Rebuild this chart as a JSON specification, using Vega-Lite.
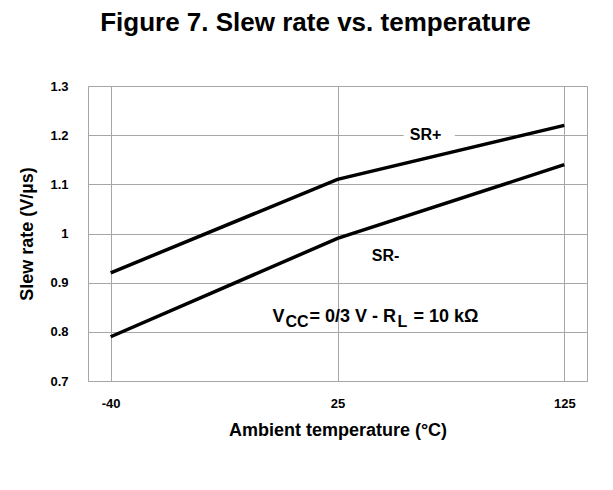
{
  "$schema": "https://vega.github.io/schema/vega-lite/v6.json",
  "autosize": {"type": "none"},
  "padding": {"left": 88, "top": 86, "right": 26, "bottom": 109},
  "width": 499,
  "height": 295,
  "background": "white",
  "title": {
    "text": "Figure 7. Slew rate vs. temperature",
    "font": "Liberation Sans",
    "fontSize": 26,
    "fontWeight": "bold",
    "color": "black",
    "anchor": "middle",
    "dx": -22,
    "offset": 44
  },
  "config": {
    "view": {"stroke": "#a6a6a6", "strokeWidth": 1},
    "font": "Liberation Sans",
    "axis": {
      "gridColor": "#a6a6a6",
      "gridOpacity": 1,
      "gridWidth": 1,
      "domain": false,
      "ticks": false,
      "labelFont": "Liberation Sans",
      "labelFontSize": 13,
      "labelFontWeight": "bold",
      "labelColor": "black",
      "titleFont": "Liberation Sans",
      "titleFontSize": 18,
      "titleFontWeight": "bold",
      "titleColor": "black"
    }
  },
  "datasets": {
    "curves": [
      {"series": "SR+", "temp": "-40", "rate": 0.92},
      {"series": "SR+", "temp": "25", "rate": 1.11},
      {"series": "SR+", "temp": "125", "rate": 1.22},
      {"series": "SR-", "temp": "-40", "rate": 0.79},
      {"series": "SR-", "temp": "25", "rate": 0.99},
      {"series": "SR-", "temp": "125", "rate": 1.14}
    ],
    "notes": [
      {"id": "srp", "label": "SR+", "temp": "25", "rate": 1.2},
      {"id": "srm", "label": "SR-", "temp": "25", "rate": 0.955},
      {"id": "v", "label": "V", "temp": "25", "rate": 0.82},
      {"id": "cc", "label": "CC", "temp": "25", "rate": 0.82},
      {"id": "mid", "label": "= 0/3 V - R", "temp": "25", "rate": 0.82},
      {"id": "l", "label": "L", "temp": "25", "rate": 0.82},
      {"id": "end", "label": "= 10 kΩ", "temp": "25", "rate": 0.82}
    ]
  },
  "encoding": {
    "x": {
      "field": "temp",
      "type": "ordinal",
      "sort": ["-40", "25", "125"],
      "scale": {"type": "point", "padding": 0.1},
      "axis": {"title": "Ambient temperature (°C)", "labelAngle": 0, "labelPadding": 16, "titlePadding": 11, "grid": true}
    },
    "y": {
      "field": "rate",
      "type": "quantitative",
      "scale": {"domain": [0.7, 1.3], "nice": false, "zero": false},
      "axis": {"title": "Slew rate (V/µs)", "format": "~g", "values": [0.7, 0.8, 0.9, 1, 1.1, 1.2, 1.3], "labelPadding": 20, "titlePadding": 13, "grid": true}
    }
  },
  "layer": [
    {
      "data": {"name": "curves"},
      "mark": {"type": "line", "color": "black", "strokeWidth": 3.5},
      "encoding": {"detail": {"field": "series"}}
    },
    {
      "data": {"name": "notes"},
      "transform": [{"filter": "datum.id === 'srp'"}],
      "mark": {"type": "text", "fontSize": 16, "fontWeight": "bold", "dx": 92, "stroke": "white", "strokeWidth": 20, "fill": "white"},
      "encoding": {"text": {"field": "label"}}
    },
    {
      "data": {"name": "notes"},
      "transform": [{"filter": "datum.id === 'srp' || datum.id === 'srm'"}],
      "mark": {"type": "text", "fontSize": 16, "fontWeight": "bold", "color": "black", "dx": {"expr": "datum.id === 'srp' ? 88 : 48"}},
      "encoding": {"text": {"field": "label"}}
    },
    {
      "data": {"name": "notes"},
      "transform": [{"filter": "datum.id === 'v' || datum.id === 'mid' || datum.id === 'end'"}],
      "mark": {"type": "text", "fontSize": 18, "fontWeight": "bold", "color": "black", "align": "left", "baseline": "alphabetic",
        "dx": {"expr": "datum.id === 'v' ? -65 : datum.id === 'mid' ? -28 : 76"}},
      "encoding": {"text": {"field": "label"}}
    },
    {
      "data": {"name": "notes"},
      "transform": [{"filter": "datum.id === 'cc' || datum.id === 'l'"}],
      "mark": {"type": "text", "fontSize": 16, "fontWeight": "bold", "color": "black", "align": "left", "baseline": "alphabetic", "dy": 5,
        "dx": {"expr": "datum.id === 'cc' ? -52 : 60"}},
      "encoding": {"text": {"field": "label"}}
    }
  ]
}
